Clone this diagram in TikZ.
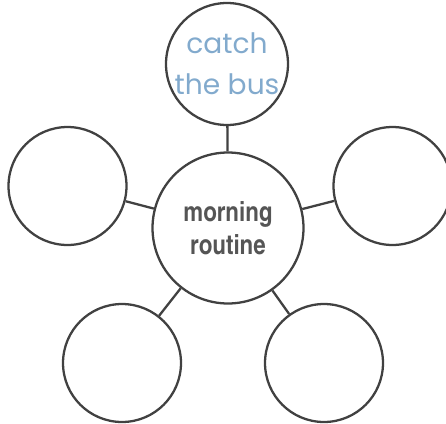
\documentclass[tikz,border=0pt]{standalone}
\usepackage{fontspec}
\usepackage{xcolor}
\usetikzlibrary{positioning}
\setsansfont{Poppins}
\newfontfamily\routinefont[Extension=.otf,UprightFont=texgyreheroscn-bold]{texgyreheroscn}
\definecolor{penblue}{RGB}{130,170,205}
\definecolor{inkgray}{RGB}{65,65,65}
\definecolor{printgray}{RGB}{85,85,85}
\tikzstyle{bubble} = [circle, draw=inkgray, line width=1.3pt, minimum size=2.36cm, inner sep=0pt]
\tikzstyle{hub} = [bubble, minimum size=3.02cm, align=center, text=printgray, font=\routinefont\fontsize{15.5}{19}\selectfont]
\tikzstyle{spoke} = [draw=inkgray, line width=1.3pt]

\begin{document}
\begin{tikzpicture}[x=0.02cm, y=-0.02cm]
    \useasboundingbox (0,0) rectangle (446,423);
    \clip (0,0) rectangle (446,423);
    \node[hub] (routine) at (228,228) {morning\\routine};
    \node[bubble, align=center, text=penblue, font=\sffamily\fontsize{16}{23.5}\selectfont] (bus) at (227,64) {catch\\the bus};
    \node[bubble] (left) at (67.5,186) {};
    \node[bubble] (right) at (392.5,186) {};
    \node[bubble] (lowleft) at (122,363) {};
    \node[bubble] (lowright) at (324,363) {};
    \draw[spoke] (routine) -- (bus);
    \draw[spoke] (routine) -- (left);
    \draw[spoke] (routine) -- (right);
    \draw[spoke] (routine) -- (lowleft);
    \draw[spoke] (routine) -- (lowright);
\end{tikzpicture}
\end{document}
